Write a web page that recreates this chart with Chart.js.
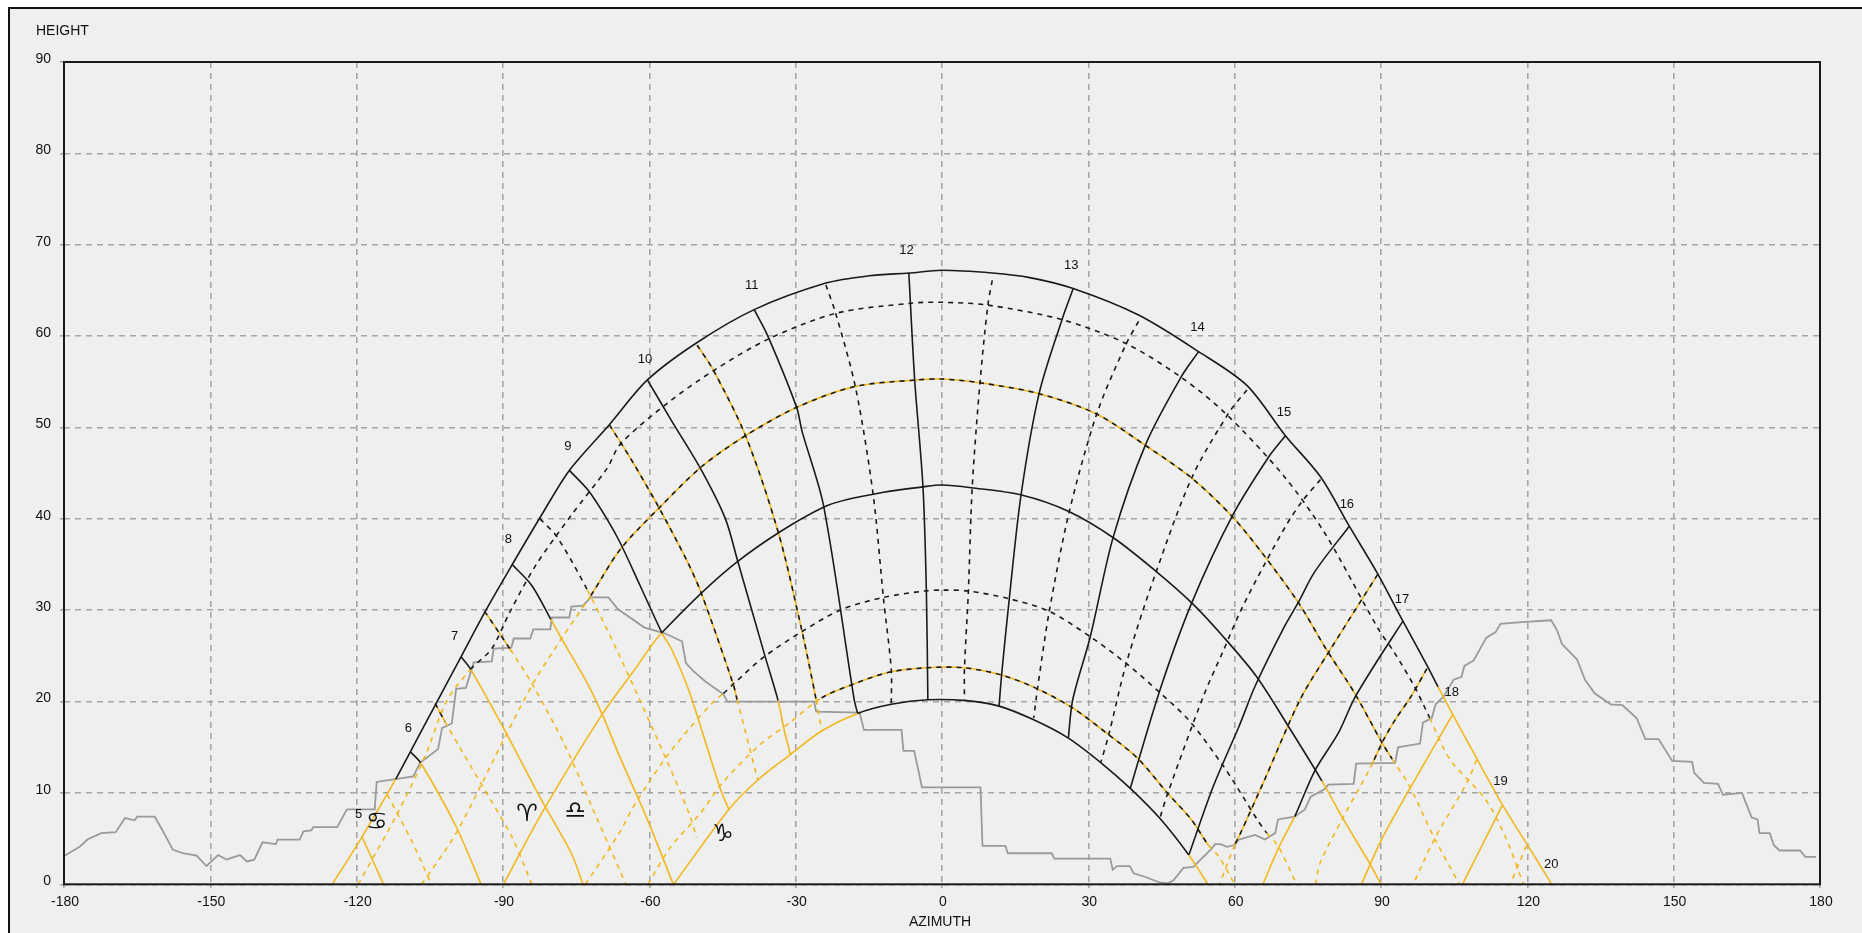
<!DOCTYPE html>
<html>
<head>
<meta charset="utf-8">
<title>Sun path</title>
<script src="https://cdn.jsdelivr.net/npm/chart.js@4"></script>
<style>
html, body { margin: 0; padding: 0; background: #fff; overflow: hidden; }
#frame { position: absolute; left: 8px; top: 7px; right: 0; bottom: 0; background: #efefef; border-left: 2px solid #111; border-top: 2px solid #111; }
#chart { position: absolute; left: 0; top: 0; filter: blur(0.4px); }
</style>
</head>
<body>
<div id="frame"></div>
<canvas id="chart" width="1862" height="933"></canvas>
<script>
// all points are [azimuth, height]

const horizon = [[-180,3.1],[-176.8,4.1],[-175.2,4.9],[-172.4,5.6],[-169.4,5.7],[-167.5,7.25],[-165.5,7],[-165,7.4],[-161.4,7.4],[-159.7,5.8],[-157.7,3.8],[-155.7,3.4],[-152.8,3.15],[-150.8,2],[-148.4,3.2],[-146.7,2.7],[-143.9,3.2],[-142.5,2.5],[-141,2.7],[-139.3,4.6],[-136.6,4.4],[-136.2,4.9],[-131.7,4.9],[-130.9,5.8],[-129.3,5.9],[-128.9,6.25],[-124,6.25],[-122,8.2],[-116.3,8.2],[-115.9,11.2],[-108.4,11.8],[-107,13.3],[-103.3,14.8],[-102.5,17.1],[-100.5,17.6],[-99.6,21.4],[-97.6,21.5],[-96,24.3],[-92.3,24.4],[-91.9,25.8],[-88.3,25.9],[-87.8,26.9],[-84.4,26.9],[-83.8,27.9],[-80.3,27.9],[-80,29.2],[-76.4,29.2],[-76,30.4],[-73.6,30.5],[-72,31.4],[-68.4,31.4],[-66.4,30.1],[-61,28.1],[-57,27.5],[-53.3,26.6],[-52.5,24.2],[-50.9,23.3],[-48.5,22.2],[-44.8,20.8],[-44,20],[-26.2,20],[-25.8,18.9],[-16.9,18.8],[-16,16.9],[-8.3,16.9],[-7.9,14.6],[-5.7,14.6],[-4.1,10.6],[7.9,10.6],[8.3,4.2],[13,4.2],[13.5,3.4],[22.5,3.4],[23,2.8],[34.5,2.8],[35,1.6],[35.9,2],[38.5,2],[39.3,1.2],[41.7,0.8],[44.6,0.2],[46.2,0.1],[47.4,0.4],[49.5,1.8],[51.5,1.9],[55.1,3.8],[56,4.4],[57.1,4.4],[58.4,4.1],[60,4.3],[60.9,4.9],[64.2,5.4],[66.2,4.9],[68.3,5.6],[68.9,7.1],[72.3,7.4],[74.4,8.2],[75.6,9.6],[78.4,10.4],[79.2,10.9],[84.4,11],[84.9,13.2],[92.9,13.3],[93.5,15],[98,15.4],[98.6,17.7],[100.4,18.2],[101.2,19.7],[102.9,20.6],[104.9,22.4],[106.5,22.7],[107.1,23.9],[109,24.5],[111.6,27],[113.5,27.6],[114.5,28.5],[118.8,28.7],[124.9,28.9],[126.1,27.8],[127.1,26.3],[130.2,24.6],[131.8,22.4],[133.8,20.9],[137.1,19.7],[139.5,19.6],[142.4,18.2],[144.2,15.9],[146.9,15.9],[149.7,13.5],[153.8,13.4],[154.2,12.2],[156.2,11.1],[159.1,11],[160.1,9.8],[164,10],[166,7.3],[167.2,7.1],[167.6,5.6],[169.7,5.6],[170.5,4.3],[171.7,3.7],[175.9,3.7],[177,3],[179.2,3]];

// day curves
const dayJun = [[-125,0],[-118.9,5.2],[-112,11.5],[-109,14.5],[-104,19.5],[-98.6,24.9],[-93.5,30],[-88.1,35],[-82,40.5],[-76.4,45.3],[-68.2,50.3],[-60.4,55.2],[-50.2,59.3],[-38.5,62.9],[-23.8,65.8],[-15,66.6],[-6.8,66.9],[0,67.2],[10.3,66.9],[18,66.4],[26.9,65.2],[40.3,62.3],[52.6,58.3],[62.5,54.6],[70.4,49.1],[77.6,44.6],[83.5,39.2],[89.3,34],[94.5,28.8],[99.4,24],[101.7,21.6],[104.7,18.6],[109.6,13.8],[114.9,8.7],[119.8,4.5],[125,0]];
const dayMay = [[-119.7,0],[-112,7.4],[-106,14],[-101.5,20.1],[-96.7,23.5],[-92.3,25.8],[-88.6,29.8],[-83.3,34.9],[-76,40.4],[-68.7,45.5],[-65.9,48.2],[-56.2,52.7],[-46.9,56.2],[-35.5,59.7],[-21.7,62.5],[-6.3,63.6],[0,63.7],[9.3,63.4],[24.6,61.8],[37.7,59.2],[49,55.5],[58,51.6],[69.9,44.8],[78.4,38.5],[89.4,28],[92.7,25.4],[96.8,21.7],[100,18.2],[104.1,13.7],[111.4,9.3],[115.5,5.2],[119.2,0]];
const dayApr = [[-106.7,0],[-99.6,5.6],[-89.8,15.9],[-83.7,22.1],[-78,26.9],[-72,31.6],[-65.9,36.7],[-57.8,41.3],[-49.3,45.7],[-40,49.2],[-29.4,52.3],[-17.7,54.5],[-5.3,55.2],[0,55.3],[7.7,54.9],[19.9,53.7],[31.6,51.5],[41.8,48],[51.1,44.5],[59.6,40.2],[66,36],[73.1,30.8],[78.8,25.7],[84.5,21],[90.2,15.5],[92.3,13.7],[95.9,10.7],[100.8,5.2],[106.1,0]];
const dayMar = [[-89.9,0],[-81.6,8.2],[-69.9,18.4],[-63,23.5],[-57.5,27.5],[-42,35.3],[-24.2,41.3],[-12,42.9],[-3.9,43.5],[0,43.7],[6,43.4],[16.3,42.6],[26,40.8],[35.2,37.9],[44,34.2],[51.2,30.8],[57.5,27.2],[64.4,22.8],[71,17.3],[77.9,11.3],[82.3,7.1],[88,2],[90,0]];
const dayFeb = [[-73.1,0],[-66.3,5.5],[-62.8,8.9],[-56.7,13.8],[-51.4,17.3],[-47,19.9],[-44.8,20.9],[-42.8,21.9],[-36.7,24.8],[-28.6,27.7],[-20.5,30.1],[-12,31.4],[-3.6,32.1],[0,32.2],[5.3,32.1],[13.4,31.3],[21.9,29.9],[30.4,27.1],[37.7,24.2],[44.2,21.2],[50.7,17.9],[57.6,13],[60.4,10.7],[64.6,7.1],[66.6,5.6],[69,4.1],[72.7,0]];
const dayJan = [[-60.3,0],[-55.6,4.1],[-49.5,7.8],[-45,11.1],[-37.7,15.1],[-31.2,17.7],[-24.7,20.4],[-18.2,21.9],[-10.9,23.2],[-3.2,23.7],[4.5,23.7],[12.2,22.9],[19.1,21.5],[26.8,19.3],[34.1,16.4],[40.1,13.8],[46.2,10],[51.1,7.1],[54.6,4.3],[56.8,3],[60,0]];
const dayDec = [[-55,0],[-43.7,8.2],[-37.6,11.5],[-31.1,14.2],[-24.6,16.8],[-17.3,18.7],[-10.4,19.7],[-2.9,20.2],[5,20.1],[11.7,19.5],[18.8,18],[25.9,16],[32.6,13.3],[38.6,10.5],[44.7,7.2],[50.6,3.2],[54.5,0]];

// whole hours
const hour5 = [[-118.9,5.2],[-114.5,0]];
const hour6 = [[-109,14.5],[-106.9,13.3],[-99.6,6.3],[-94.5,0]];
const hour7 = [[-98.6,24.9],[-96.7,23.6],[-89.4,16.6],[-82.5,9.6],[-76,3.4],[-73.6,0]];
const hour8 = [[-88.1,35],[-84.1,32.7],[-80.2,29],[-78,26.9],[-72.4,21.7],[-69.5,18.4],[-66.1,14],[-63.7,11.1],[-60.4,7.1],[-55.1,0]];
const hour9 = [[-76.4,45.3],[-72.5,43.1],[-68.7,40],[-65.9,37.3],[-61.9,32.7],[-57.4,27.5],[-55.4,25.7],[-51.9,21.2],[-47.8,14.4],[-45.4,10.4],[-43.7,8.2]];
const hour10 = [[-60.4,55.2],[-55.4,50.7],[-49.3,45.3],[-44.4,40],[-42,35.6],[-36.3,25],[-33.6,20.1],[-32.4,17],[-31.1,14.2]];
const hour11 = [[-38.5,62.9],[-35.7,60],[-29.8,52.2],[-28.7,49.6],[-24.3,41.5],[-18,20.2],[-17.3,18.7]];
const hour12 = [[-6.8,66.9],[-5.6,55.2],[-3.9,43.5],[-3.2,32],[-2.9,20.2]];
const hour13 = [[26.9,65.2],[24.6,61.8],[19.9,53.7],[16.2,42.6],[13.8,31.3],[12.2,22.8],[11.7,19.5]];
const hour14 = [[52.6,58.3],[49,55.5],[41.8,48.2],[35.1,38],[30.4,27.1],[26.8,20.2],[25.9,16]];
const hour15 = [[70.4,49.1],[67,46.8],[59.6,40.4],[51.2,30.8],[44.7,21.3],[38.6,10.5]];
const hour16 = [[83.5,39.2],[76.4,34.2],[73.1,30.9],[69.9,27.9],[64.2,21.7],[60.9,17.3],[55.6,10.7],[50.6,3.2]];
const hour17 = [[94.5,28.8],[89.4,24.6],[84.5,20.3],[81.3,16.6],[76.4,12.4],[72.3,7.4],[69.1,4.1],[65.8,0]];
const hour18 = [[104.7,18.6],[95.4,10],[90.1,4.9],[86,0]];
const hour19 = [[114.9,8.7],[106.7,0]];

// half hours
const half5 = [[-113.7,9.8],[-108.5,4.5],[-104.7,0]];
const half6 = [[-103.9,19.8],[-101.9,17.8],[-99,15.1],[-92.6,9.3],[-88,5],[-84.1,0]];
const half7 = [[-93.8,29.9],[-88.5,25.7],[-84.1,22],[-77.2,15.1],[-71.8,8.5],[-68.5,4.5],[-64.8,0]];
const half8 = [[-82.4,40],[-78.9,38],[-72.7,32.2],[-66.1,25],[-56.8,14],[-51.9,7.8],[-50.3,5.1]];
const half9 = [[-68.2,50.3],[-63.5,46.3],[-57.8,41],[-52.1,35.2],[-49.3,31.8],[-42.8,21.9],[-42,20.2],[-37.7,11.3]];
const half10 = [[-50.2,59],[-46.9,56.3],[-40.2,49],[-33.5,38.4],[-28.7,27.7],[-25.8,20.2],[-24.6,16.7]];
const half11 = [[-23.8,65.6],[-21.8,62.5],[-17.7,54.3],[-14.1,42.6],[-12,31.3],[-10.4,23.5],[-10.4,19.8]];
const half12 = [[10.3,66.1],[9.4,63.4],[7.8,55],[6.2,43.5],[5.4,32],[4.6,23.5],[4.6,20.2]];
const half13 = [[40.3,61.6],[37.8,59.2],[31.8,51.6],[26.1,40.8],[22,29.9],[19.6,21.5],[18.8,18.2]];
const half14 = [[62.5,54.1],[58.8,51.6],[51.3,44.6],[43.9,34.2],[37.8,24.2],[34.2,16.4],[32.6,13.4]];
const half15 = [[77.6,44.3],[73.8,41.9],[70.8,39.5],[66.1,35],[61.2,29.9],[57.7,25.6],[53.6,20.6],[46.3,10],[44.7,7.3]];
const half16 = [[89.3,33.9],[79.5,25.6],[73.4,20.2],[66.1,11.4],[61.2,5.6],[60,4.3],[56.9,0]];
const half17 = [[99.4,23.6],[96.2,20.6],[92.9,18],[90.5,15.8],[88.3,13.3],[87.6,12.5],[82.3,7.4],[77.5,2.3],[76.6,0]];
const half18 = [[109.6,13.6],[107.6,11.1],[101,5],[96.6,0]];
const half19 = [[119.8,4.2],[116.5,0]];

// azimuth range of each curve that stands above the horizon (null = never)
const sunPaths = [
    { pts: dayJun, lit: [-112, 101.7] },
    { pts: dayMay, lit: [-96.7, 100], dash: true },
    { pts: dayApr, lit: [-72, 92.3], dash: true, under: true },
    { pts: dayMar, lit: [-57.5, 77.9] },
    { pts: dayFeb, lit: [-44.8, 66.6], dash: true },
    { pts: dayJan, lit: [-24.7, 54.6], dash: true, under: true },
    { pts: dayDec, lit: [-17.3, 50.6] },
    { pts: hour5, lit: null },
    { pts: hour6, lit: [-109, -106.9] },
    { pts: hour7, lit: [-98.6, -96.7] },
    { pts: hour8, lit: [-88.1, -80.2] },
    { pts: hour9, lit: [-76.4, -57.4] },
    { pts: hour10, lit: [-60.4, -33.6] },
    { pts: hour11, lit: [-38.5, -17.3] },
    { pts: hour12, lit: [-6.8, -2.9] },
    { pts: hour13, lit: [11.7, 26.9] },
    { pts: hour14, lit: [25.9, 52.6] },
    { pts: hour15, lit: [38.6, 70.4] },
    { pts: hour16, lit: [50.6, 83.5] },
    { pts: hour17, lit: [72.3, 94.5] },
    { pts: hour18, lit: null },
    { pts: hour19, lit: null },
    { pts: half5, lit: null, dash: true },
    { pts: half6, lit: [-103.9, -101.9], dash: true, under: true },
    { pts: half7, lit: [-93.8, -88.5], dash: true, under: true },
    { pts: half8, lit: [-82.4, -72.7], dash: true },
    { pts: half9, lit: [-68.2, -42], dash: true, under: true },
    { pts: half10, lit: [-50.2, -25.8], dash: true, under: true },
    { pts: half11, lit: [-23.8, -10.4], dash: true },
    { pts: half12, lit: [4.6, 10.3], dash: true },
    { pts: half13, lit: [18.8, 40.3], dash: true },
    { pts: half14, lit: [32.6, 62.5], dash: true },
    { pts: half15, lit: [44.7, 77.6], dash: true },
    { pts: half16, lit: [60, 89.3], dash: true, under: true },
    { pts: half17, lit: [88.3, 99.4], dash: true, under: true },
    { pts: half18, lit: null, dash: true },
    { pts: half19, lit: null, dash: true }
];

const hourLabels = ['5','6','7','8','9','10','11','12','13','14','15','16','17','18','19','20'];
const hourLabelAz = [-119.6,-109.4,-99.9,-88.9,-76.7,-60.9,-39,-7.3,26.5,52.4,70.1,83,94.3,104.5,114.5,124.9];
const hourLabelAlt = [7.66,17.1,27.1,37.7,47.9,57.5,65.5,69.4,67.7,60.9,51.7,41.6,31.2,21,11.3,2.2];

const signLabels = ['\u264B\uFE0E','\u2648\uFE0E','\u264E\uFE0E','\u2651\uFE0E'];
const signAz = [-115.9,-85.1,-75.2,-44.9];
const signAlt = [6.7,7.6,7.95,5.4];

const BLACK = '#1a1a1a';
const YELLOW = '#f0b81e';
const FONT = '"Liberation Sans", Arial, sans-serif';

function toXY(pts) {
    return pts.map(function(p) { return { x: p[0], y: p[1] }; });
}

function isLit(ctx, lit) {
    if (!lit) return false;
    const mid = (ctx.p0.parsed.x + ctx.p1.parsed.x) / 2;
    return mid >= lit[0] && mid <= lit[1];
}

const datasets = [];

sunPaths.forEach(function(path) {
    datasets.push({
        data: toXY(path.pts),
        showLine: true,
        tension: 0.3,
        pointRadius: 0,
        borderWidth: 1.6,
        borderColor: BLACK,
        order: 1,
        segment: {
            borderColor: function(ctx) { return isLit(ctx, path.lit) ? BLACK : YELLOW; },
            borderDash: function() { return path.dash ? [5, 5] : undefined; }
        }
    });
    if (path.under) {
        // yellow showing through the gaps of the black dashes
        datasets.push({
            data: toXY(path.pts),
            showLine: true,
            tension: 0.3,
            pointRadius: 0,
            borderWidth: 1.6,
            borderColor: YELLOW,
            order: 2,
            segment: {
                borderColor: function(ctx) { return isLit(ctx, path.lit) ? YELLOW : 'rgba(0,0,0,0)'; }
            }
        });
    }
});

datasets.push({
    data: toXY(horizon),
    showLine: true,
    pointRadius: 0,
    borderWidth: 1.8,
    borderColor: '#9a9a9a',
    order: 3
});

const labelsPlugin = {
    id: 'labels',
    afterDatasetsDraw: function(chart) {
        const c = chart.ctx;
        const x = chart.scales.x;
        const y = chart.scales.y;
        const a = chart.chartArea;
        c.save();
        c.strokeStyle = BLACK;
        c.lineWidth = 2;
        c.strokeRect(a.left, a.top, a.right - a.left, a.bottom - a.top);
        c.fillStyle = '#111';
        c.textAlign = 'center';
        c.textBaseline = 'middle';
        c.font = '13px ' + FONT;
        hourLabels.forEach(function(t, i) {
            c.fillText(t, x.getPixelForValue(hourLabelAz[i]), y.getPixelForValue(hourLabelAlt[i]));
        });
        c.font = '24px "DejaVu Sans"';
        signLabels.forEach(function(t, i) {
            c.fillText(t, x.getPixelForValue(signAz[i]), y.getPixelForValue(signAlt[i]));
        });
        c.font = '14px ' + FONT;
        c.fillText('AZIMUTH', 940, 922);
        c.textAlign = 'left';
        c.fillText('HEIGHT', 36, 31);
        c.restore();
    }
};

new Chart(document.getElementById('chart').getContext('2d'), {
    type: 'scatter',
    data: { datasets: datasets },
    plugins: [labelsPlugin],
    options: {
        responsive: false,
        animation: false,
        devicePixelRatio: 1,
        layout: { padding: { top: 62, right: 42, left: 0, bottom: 0 } },
        plugins: { legend: { display: false }, tooltip: { enabled: false } },
        scales: {
            x: {
                type: 'linear',
                min: -180,
                max: 180,
                afterFit: function(s) { s.height = 48.7; },
                grid: { color: '#a6a6a6', lineWidth: 1.6, tickLength: 4, tickColor: '#a6a6a6' },
                border: { display: false, dash: [6, 5] },
                ticks: { stepSize: 30, color: '#111', padding: 5, labelOffset: 1, maxRotation: 0, autoSkip: false, font: { size: 14, family: FONT } }
            },
            y: {
                type: 'linear',
                min: 0,
                max: 90,
                afterFit: function(s) { s.width = 64; },
                grid: { color: '#a6a6a6', lineWidth: 1.6, tickLength: 4, tickColor: '#a6a6a6' },
                border: { display: false, dash: [6, 5] },
                ticks: { stepSize: 10, color: '#111', padding: 9, labelOffset: -3, font: { size: 14, family: FONT } }
            }
        }
    }
});
</script>
</body>
</html>
